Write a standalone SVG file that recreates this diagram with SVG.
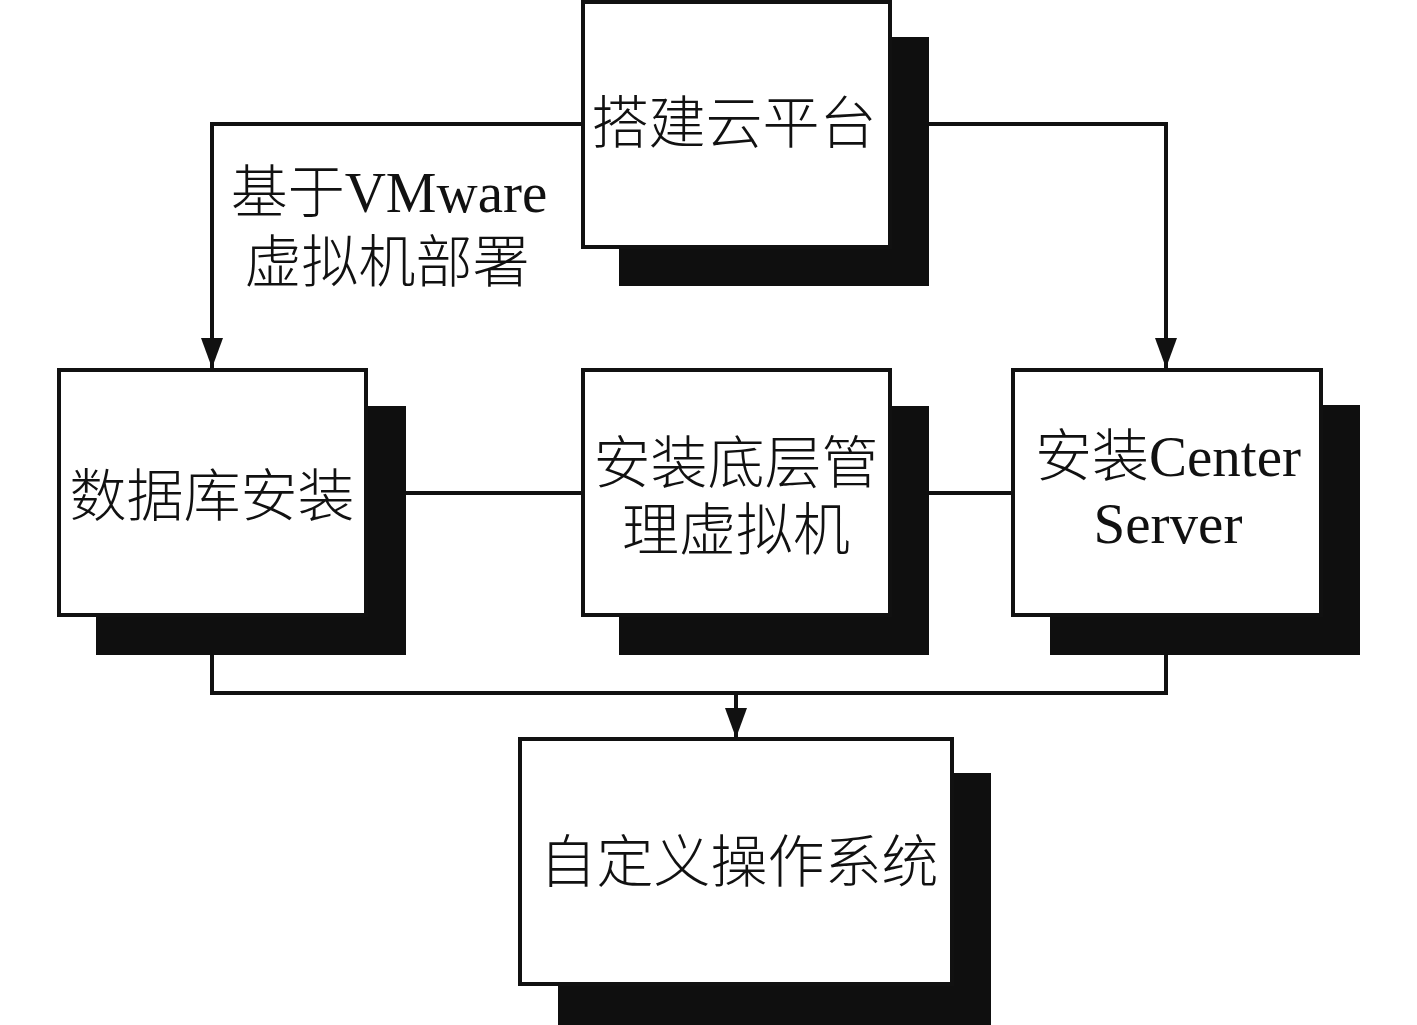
<svg xmlns="http://www.w3.org/2000/svg" width="1417" height="1025" viewBox="0 0 1417 1025">
<defs>
<style>
.box{fill:#fff;stroke:#111;stroke-width:4}
.shadow{fill:#0f0f0f}
.t{font-family:"Liberation Serif","Noto Sans CJK SC",serif;font-size:57px;font-weight:300;fill:#111;text-anchor:middle}
.ln{fill:none;stroke:#111;stroke-width:4}
</style>
<marker id="arr" markerWidth="30" markerHeight="22" refX="30" refY="11" orient="auto" markerUnits="userSpaceOnUse" viewBox="0 0 30 22">
<path d="M0,0 L30,11 L0,22 Z" fill="#111"/>
</marker>
</defs>
<rect width="1417" height="1025" fill="#fff"/>
<g id="connectors">
<polyline class="ln" points="583,124 212,124 212,368" marker-end="url(#arr)"/>
<polyline class="ln" points="890,124 1166,124 1166,368" marker-end="url(#arr)"/>
<line class="ln" x1="406" y1="493" x2="583" y2="493"/>
<line class="ln" x1="929" y1="493" x2="1013" y2="493"/>
<polyline class="ln" points="212,655 212,693 1166,693 1166,655"/>
<line class="ln" x1="736" y1="693" x2="736" y2="738" marker-end="url(#arr)"/>
<text class="t" x="389" y="212">基于VMware</text>
<text class="t" x="387" y="282">虚拟机部署</text>
</g>
<g id="node-top">
<rect class="shadow" x="619" y="37" width="310" height="249"/>
<rect class="box" x="583" y="2" width="307" height="245"/>
<text class="t" x="734" y="143">搭建云平台</text>
</g>
<g id="node-db">
<rect class="shadow" x="96" y="406" width="310" height="249"/>
<rect class="box" x="59" y="370" width="307" height="245"/>
<text class="t" x="212" y="516">数据库安装</text>
</g>
<g id="node-mgmt">
<rect class="shadow" x="619" y="406" width="310" height="249"/>
<rect class="box" x="583" y="370" width="307" height="245"/>
<text class="t" x="736" y="483">安装底层管</text>
<text class="t" x="736" y="550">理虚拟机</text>
</g>
<g id="node-center">
<rect class="shadow" x="1050" y="405" width="310" height="250"/>
<rect class="box" x="1013" y="370" width="308" height="245"/>
<text class="t" x="1168" y="476">安装Center</text>
<text class="t" x="1168" y="543">Server</text>
</g>
<g id="node-os">
<rect class="shadow" x="558" y="773" width="433" height="252"/>
<rect class="box" x="520" y="739" width="432" height="245"/>
<text class="t" x="739" y="882">自定义操作系统</text>
</g>
</svg>
